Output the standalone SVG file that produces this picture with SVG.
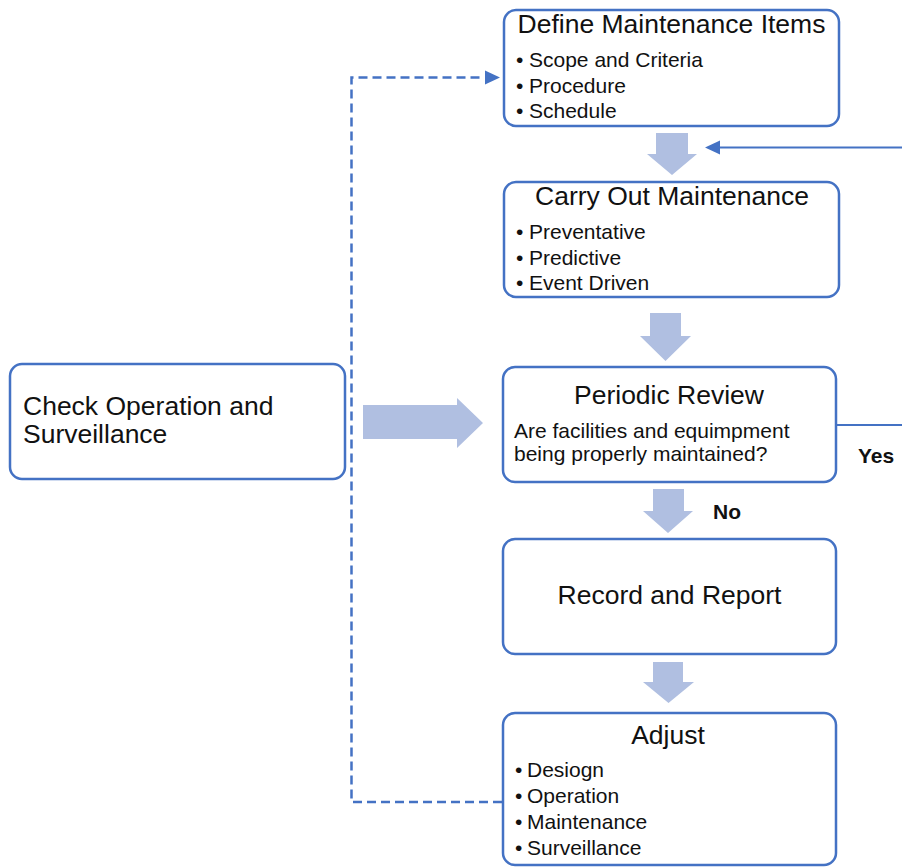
<svg xmlns="http://www.w3.org/2000/svg" width="902" height="867" viewBox="0 0 902 867">
<defs>
<style>
.box{fill:#fff;stroke:#4472C4;stroke-width:2.5}
.t{font-family:"Liberation Sans",Arial,sans-serif;font-size:26.5px;fill:#111}
.b{font-family:"Liberation Sans",Arial,sans-serif;font-size:21px;fill:#111}
.lbl{font-family:"Liberation Sans",Arial,sans-serif;font-size:21px;font-weight:bold;fill:#111}
.blk{fill:#B0BFE1}
.ln{fill:none;stroke:#4472C4;stroke-width:2.2}
.dash{fill:none;stroke:#4472C4;stroke-width:2.5;stroke-dasharray:9,5}
</style>
</defs>
<rect width="902" height="867" fill="#fff"/>

<g id="connectors">
<path class="dash" d="M502,802 H351.5 V77.5 H484" />
<path d="M485,70.5 L500,77.5 L485,84.5 Z" fill="#4472C4"/>
<path class="ln" d="M836,425 H902"/>
<path class="ln" d="M902,147.5 H718"/>
<path d="M720,140.5 L705,147.5 L720,154.5 Z" fill="#4472C4"/>
<path class="blk" d="M656,133 H688 V154 H697 L672,175 L647,154 H656 Z"/>
<path class="blk" d="M650,313 H681 V336 H691 L665.5,361 L640,336 H650 Z"/>
<path class="blk" d="M653,489 H684 V511 H693 L668,533 L643,511 H653 Z"/>
<path class="blk" d="M653,662 H683 V682 H694 L668.5,703 L643,682 H653 Z"/>
<path class="blk" d="M363,405 H457 V398 L483,423 L457,448 V439 H363 Z"/>
<text class="lbl" x="713" y="519">No</text>
<text class="lbl" x="858" y="463">Yes</text>
</g>

<g id="define">
<rect class="box" x="504" y="10" width="335" height="116" rx="12"/>
<text class="t" x="671.5" y="33" text-anchor="middle">Define Maintenance Items</text>
<text class="b" x="516" y="67">•</text><text class="b" x="529" y="67">Scope and Criteria</text>
<text class="b" x="516" y="93">•</text><text class="b" x="529" y="93">Procedure</text>
<text class="b" x="516" y="118">•</text><text class="b" x="529" y="118">Schedule</text>
</g>

<g id="carry">
<rect class="box" x="504" y="182" width="335" height="115" rx="12"/>
<text class="t" x="672" y="205" text-anchor="middle">Carry Out Maintenance</text>
<text class="b" x="516" y="239">•</text><text class="b" x="529" y="239">Preventative</text>
<text class="b" x="516" y="265">•</text><text class="b" x="529" y="265">Predictive</text>
<text class="b" x="516" y="290">•</text><text class="b" x="529" y="290">Event Driven</text>
</g>

<g id="check">
<rect class="box" x="10" y="364" width="335" height="115" rx="12"/>
<text class="t" x="23" y="415">Check Operation and</text>
<text class="t" x="23" y="443">Surveillance</text>
</g>

<g id="review">
<rect class="box" x="503" y="367" width="333" height="115" rx="12"/>
<text class="t" x="669" y="404" text-anchor="middle">Periodic Review</text>
<text class="b" x="514" y="438">Are facilities and equimpment</text>
<text class="b" x="514" y="461">being properly maintained?</text>
</g>

<g id="record">
<rect class="box" x="503" y="539" width="333" height="115" rx="12"/>
<text class="t" x="669.5" y="604" text-anchor="middle">Record and Report</text>
</g>

<g id="adjust">
<rect class="box" x="503" y="713" width="333" height="152" rx="12"/>
<text class="t" x="668" y="744" text-anchor="middle">Adjust</text>
<text class="b" x="515" y="777">•</text><text class="b" x="527" y="777">Desiogn</text>
<text class="b" x="515" y="803">•</text><text class="b" x="527" y="803">Operation</text>
<text class="b" x="515" y="829">•</text><text class="b" x="527" y="829">Maintenance</text>
<text class="b" x="515" y="855">•</text><text class="b" x="527" y="855">Surveillance</text>
</g>
</svg>
